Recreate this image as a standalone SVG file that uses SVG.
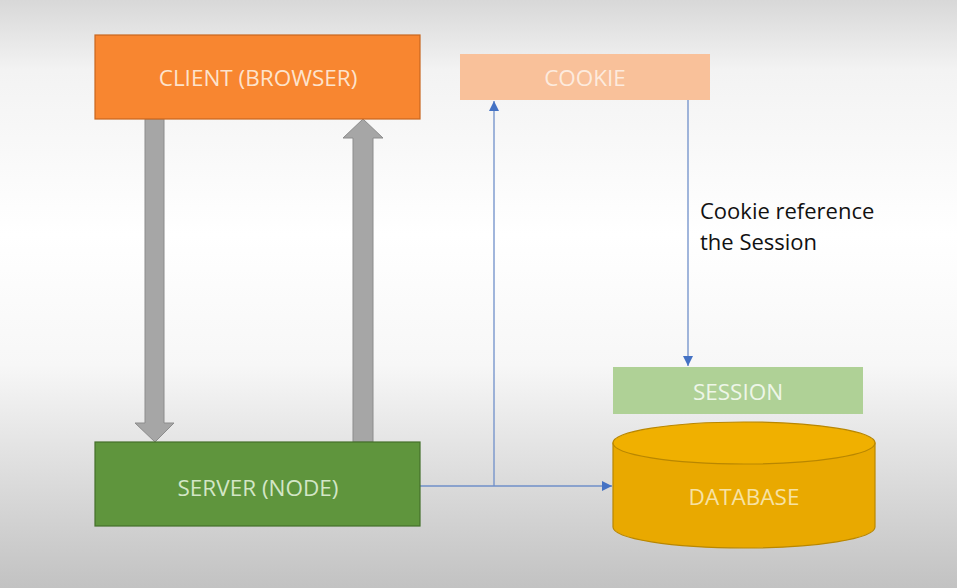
<svg xmlns="http://www.w3.org/2000/svg" width="957" height="588" viewBox="0 0 957 588">
<defs>
<linearGradient id="bg" x1="0" y1="0" x2="0" y2="1">
<stop offset="0" stop-color="#d8d8d8"/>
<stop offset="0.12" stop-color="#f3f3f3"/>
<stop offset="0.4" stop-color="#ffffff"/>
<stop offset="0.62" stop-color="#f7f7f7"/>
<stop offset="1" stop-color="#c2c2c2"/>
</linearGradient>
<marker id="ah" viewBox="0 0 10 10" refX="10" refY="5" markerWidth="10" markerHeight="10" markerUnits="userSpaceOnUse" orient="auto">
<path d="M0,0 L10,5 L0,10 Z" fill="#4472c4"/>
</marker>
<style>
.lbl{font-family:"Open Sans","Liberation Sans",sans-serif;font-size:22.5px;text-anchor:middle;dominant-baseline:central}
.conn{stroke:#6f8fc9;stroke-width:1.3;fill:none}
.garrow{fill:#a6a6a6;stroke:#8c8c8c;stroke-width:1}
.note{font-family:"Open Sans","Liberation Sans",sans-serif;font-size:22px;fill:#111;dominant-baseline:central}
</style>
</defs>
<rect width="957" height="588" fill="url(#bg)"/>
<g id="connectors">
<path class="garrow" d="M145,119 L164,119 L164,423 L174,423 L155,442 L135,423 L145,423 Z"/>
<path class="garrow" d="M353,442 L373,442 L373,138 L383,138 L363,119 L343,138 L353,138 Z"/>
<path class="conn" d="M420,486 L612,486" marker-end="url(#ah)"/>
<path class="conn" d="M494,486 L494,101" marker-end="url(#ah)"/>
<path class="conn" d="M688,100 L688,366" marker-end="url(#ah)"/>
<text class="note" x="700" y="210">Cookie reference</text>
<text class="note" x="700" y="241">the Session</text>
</g>
<g id="client">
<rect x="95" y="35" width="325" height="84" fill="#f88630" stroke="#c8671f" stroke-width="1.2"/>
<text class="lbl" x="258" y="77" fill="#fde3cc">CLIENT (BROWSER)</text>
</g>
<g id="server">
<rect x="95" y="442" width="325" height="84" fill="#5f953d" stroke="#44702a" stroke-width="1.2"/>
<text class="lbl" x="258" y="487" fill="#d3e6c6">SERVER (NODE)</text>
</g>
<g id="cookie">
<rect x="460" y="54" width="250" height="46" fill="#f9c19a"/>
<text class="lbl" x="585" y="77" fill="#fdebde">COOKIE</text>
</g>
<g id="session">
<rect x="613" y="367" width="250" height="47" fill="#afd196"/>
<text class="lbl" x="738" y="391" fill="#eef6e8">SESSION</text>
</g>
<g id="database">
<path d="M613,443 L613,527 A131,21 0 0 0 875,527 L875,443 Z" fill="#e9a900" stroke="#b98700" stroke-width="1.2"/>
<ellipse cx="744" cy="443" rx="131" ry="21" fill="#f0b000" stroke="#b98700" stroke-width="1.2"/>
<text class="lbl" x="744" y="496" fill="#f7e2a4">DATABASE</text>
</g>
</svg>
